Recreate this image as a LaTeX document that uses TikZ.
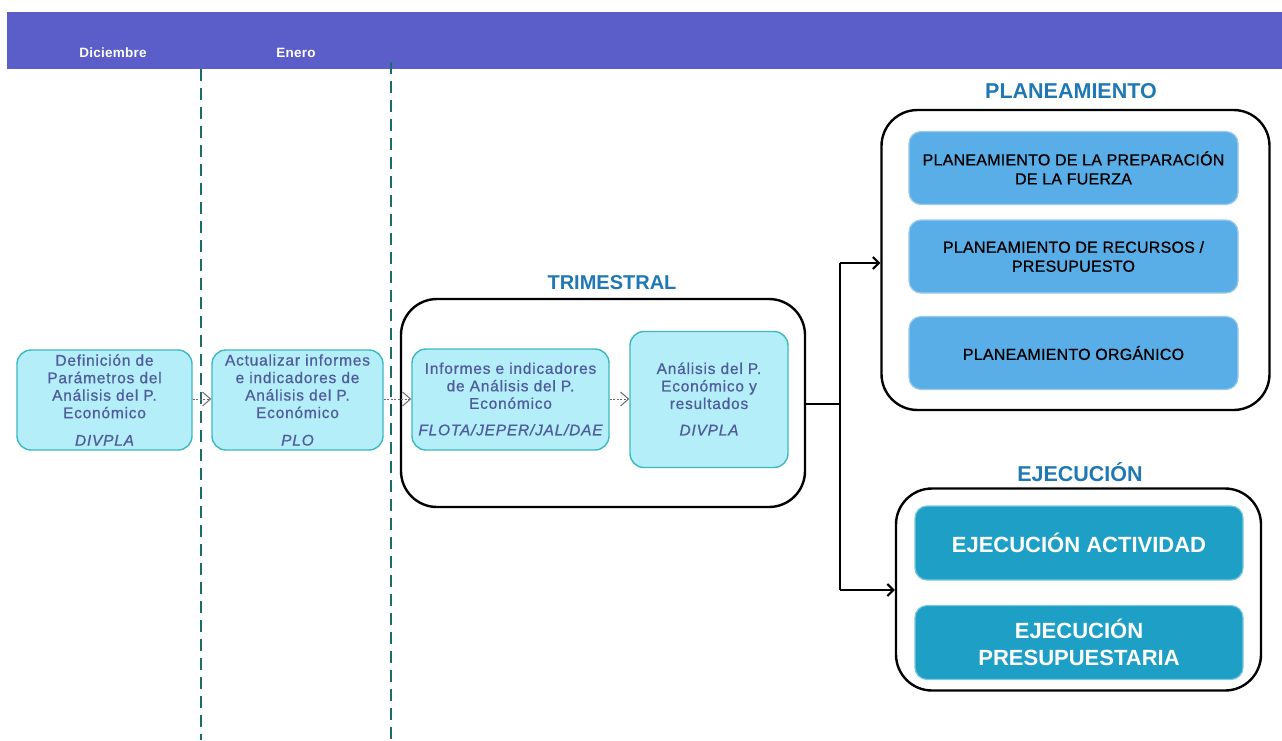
\documentclass[tikz,border=0pt]{standalone}
\usepackage{fontspec}
\setmainfont{Liberation Sans}
\usetikzlibrary{arrows.meta}
\definecolor{band}{HTML}{5B5EC8}
\definecolor{boxfill}{HTML}{B3EEF9}
\definecolor{boxline}{HTML}{3CB8BE}
\definecolor{boxtext}{HTML}{4F5B9C}
\definecolor{planfill}{HTML}{5AAEE8}
\definecolor{planline}{HTML}{9CCBEA}
\definecolor{ejefill}{HTML}{1E9FC6}
\definecolor{ejeline}{HTML}{7CC8DE}
\definecolor{titlecol}{HTML}{1F78B4}
\definecolor{divcol}{HTML}{1F6B6B}
\definecolor{dotcol}{HTML}{6A6A6A}
\tikzset{
  hdr/.style={text=white,font=\fontsize{13.5}{15}\selectfont\bfseries\addfontfeature{LetterSpace=2},inner sep=0pt},
  divider/.style={divcol,line width=1.3pt,dash pattern=on 12pt off 7pt},
  procbox/.style={draw=boxline,fill=boxfill,line width=1.4pt,rounded corners=14pt,inner sep=0pt},
  proctext/.style={text=boxtext,align=center,inner sep=0pt,font=\fontsize{15.5}{17.5}\selectfont\addfontfeature{LetterSpace=5,FakeBold=0.7}},
  container/.style={draw=black,line width=2.4pt,rounded corners=36pt,inner sep=0pt},
  grouptitle/.style={text=titlecol,font=\fontsize{20}{22}\selectfont\bfseries,inner sep=0pt},
  planbox/.style={draw=planline,fill=planfill,line width=1.2pt,rounded corners=12pt,inner sep=0pt,
    align=center,font=\fontsize{16}{19}\selectfont\addfontfeature{LetterSpace=1.5,FakeBold=0.9},text=black},
  ejebox/.style={draw=ejeline,fill=ejefill,line width=1.2pt,rounded corners=12pt,inner sep=0pt,
    align=center,font=\fontsize{22}{27}\selectfont\bfseries,text=white},
  dotarrow/.style={dotcol,line width=1pt,dash pattern=on 2pt off 1.5pt,-{Straight Barb[length=8pt,width=14pt,line width=1pt]}},
  mainline/.style={black,line width=2pt},
  mainarrow/.style={black,line width=2pt,-{Straight Barb[length=6pt,width=12pt]}}
}
\begin{document}
\begin{tikzpicture}[x=1pt,y=-1pt]
\useasboundingbox (0,0) rectangle (1282,740);
% header band
\fill[band] (7,12) rectangle (1282,69);
\node[hdr] (dic) at (113,53) {Diciembre};
\node[hdr] (ene) at (296,53) {Enero};
% dividers
\coordinate (d1t) at (201,69);
\coordinate (d1b) at (201,740);
\coordinate (d2t) at (391,62);
\coordinate (d2b) at (391,740);
\draw[divider] (d1t) -- (d1b);
\draw[divider] (d2t) -- (d2b);
% containers
\node[container,minimum width=404pt,minimum height=208pt] (trim) at (603,403) {};
\node[grouptitle] (trimt) at (612,283) {TRIMESTRAL};
\node[container,minimum width=388pt,minimum height=300pt] (plan) at (1075.5,260) {};
\node[grouptitle,font=\fontsize{21.5}{23}\selectfont\bfseries] (plant) at (1071,91) {PLANEAMIENTO};
\node[container,minimum width=365pt,minimum height=202pt] (eje) at (1078.5,589.5) {};
\node[grouptitle,font=\fontsize{21.5}{23}\selectfont\bfseries] (ejet) at (1080,472) {EJECUCIÓN};
% process boxes
\node[procbox,minimum width=175pt,minimum height=100pt] (b1) at (104.5,400) {};
\node[proctext] (b1t) at (104.5,400) {Definición de\\Parámetros del\\Análisis del P.\\Económico\\[10pt]\itshape DIVPLA};
\node[procbox,minimum width=171pt,minimum height=100pt] (b2) at (297.5,400) {};
\node[proctext] (b2t) at (297.5,400) {Actualizar informes\\e indicadores de\\Análisis del P.\\Económico\\[10pt]\itshape PLO};
\node[procbox,minimum width=197pt,minimum height=101pt] (b3) at (510.5,399.5) {};
\node[proctext] (b3t) at (510.5,399) {Informes e indicadores\\de Análisis del P.\\Económico\\[9pt]\itshape FLOTA/JEPER/JAL/DAE};
\node[procbox,minimum width=158pt,minimum height=136pt] (b4) at (709,399.5) {};
\node[proctext] (b4t) at (709,399) {Análisis del P.\\Económico y\\resultados\\[9pt]\itshape DIVPLA};
% planeamiento boxes
\node[planbox,minimum width=329pt,minimum height=73pt] (p1) at (1073.5,168) {PLANEAMIENTO DE LA PREPARACIÓN\\DE LA FUERZA};
\node[planbox,minimum width=329pt,minimum height=73pt] (p2) at (1073.5,256.5) {PLANEAMIENTO DE RECURSOS /\\PRESUPUESTO};
\node[planbox,minimum width=329pt,minimum height=73pt] (p3) at (1073.5,353) {PLANEAMIENTO ORGÁNICO};
% ejecucion boxes
\node[ejebox,minimum width=328pt,minimum height=74pt] (e1) at (1079,543) {EJECUCIÓN ACTIVIDAD};
\node[ejebox,minimum width=328pt,minimum height=74pt] (e2) at (1079,642.5) {EJECUCIÓN\\PRESUPUESTARIA};
% dotted connectors
\draw[dotarrow] (b1.east |- 0,399) -- (b2.west |- 0,399);
\draw[dotarrow] (b2.east |- 0,399) -- (b3.west |- 0,399);
\draw[dotarrow] (b3.east |- 0,399) -- (b4.west |- 0,399);
% main connectors
\coordinate (jm) at (840,404);
\coordinate (jt) at (840,263);
\coordinate (jb) at (840,590);
\draw[mainline] (trim.east |- jm) -- (jm);
\draw[mainline] (jt) -- (jb);
\draw[mainarrow] (jt) -- (plan.west |- jt);
\draw[mainarrow] (jb) -- (eje.west |- jb);
\end{tikzpicture}
\end{document}
